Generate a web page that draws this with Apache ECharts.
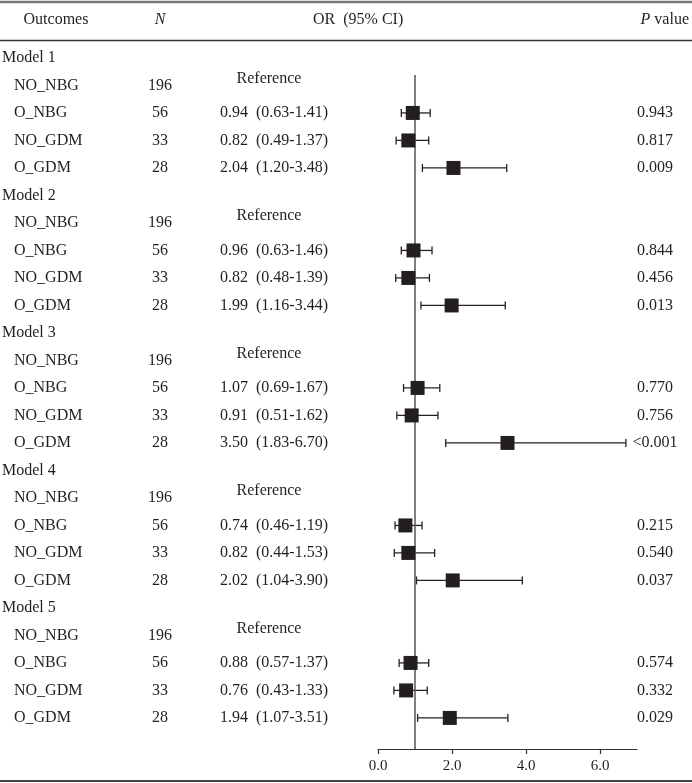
<!DOCTYPE html>
<html><head><meta charset="utf-8">
<script src="https://cdn.jsdelivr.net/npm/echarts@6/dist/echarts.min.js"></script>
<style>html,body{margin:0;padding:0;background:#fff}#c{width:692px;height:783px}</style>
</head><body><div id="c"></div>
<script>
const models = ['Model 1','Model 2','Model 3','Model 4','Model 5'];
const groups = ['NO_NBG','O_NBG','NO_GDM','O_GDM'];
const nValues = [196, 56, 33, 28];
// per model: O_NBG, NO_GDM, O_GDM (NO_NBG is reference)
const orValues = [[0.94,0.82,2.04],[0.96,0.82,1.99],[1.07,0.91,3.50],[0.74,0.82,2.02],[0.88,0.76,1.94]];
const ciLow   = [[0.63,0.49,1.20],[0.63,0.48,1.16],[0.69,0.51,1.83],[0.46,0.44,1.04],[0.57,0.43,1.07]];
const ciHigh  = [[1.41,1.37,3.48],[1.46,1.39,3.44],[1.67,1.62,6.70],[1.19,1.53,3.90],[1.37,1.33,3.51]];
const pValues = [['0.943','0.817','0.009'],['0.844','0.456','0.013'],['0.770','0.756','<0.001'],['0.215','0.540','0.037'],['0.574','0.332','0.029']];
const xTicks = [0, 2, 4, 6];

const FONT = "'Liberation Serif','DejaVu Serif',serif";
const FS = 16;
const INK = '#231f20';

// Build row table
const rows = [];
const points = [];
const cis = [];
let r = 0;
models.forEach((m, mi) => {
  rows.push({row: r, kind: 'model', label: m});
  r++;
  groups.forEach((g, gi) => {
    if (gi === 0) {
      rows.push({row: r, kind: 'ref', label: g, n: nValues[gi]});
    } else {
      const k = gi - 1;
      const o = orValues[mi][k], lo = ciLow[mi][k], hi = ciHigh[mi][k];
      rows.push({row: r, kind: 'est', label: g, n: nValues[gi],
        orText: o.toFixed(2) + '  (' + lo.toFixed(2) + '-' + hi.toFixed(2) + ')', p: pValues[mi][k]});
      points.push([o, r]);
      cis.push([lo, hi, r]);
    }
    r++;
  });
});

const chart = echarts.init(document.getElementById('c'), null, {renderer: 'canvas'});

function txt(x, y, text, align, italic) {
  return {type: 'text', x: x, y: y, style: {text: text, font: (italic ? 'italic ' : '') + FS + 'px ' + FONT,
    fill: INK, align: align, textAlign: align, verticalAlign: 'middle', textVerticalAlign: 'middle'}};
}

chart.setOption({
  animation: false,
  grid: {left: 378, right: 55, top: 75, bottom: 34},
  xAxis: {
    type: 'value', min: 0, max: 7, interval: 2,
    splitLine: {show: false},
    axisLine: {show: true, onZero: false, lineStyle: {color: '#333', width: 1.2}},
    axisTick: {show: true, length: 5, customValues: xTicks, lineStyle: {color: '#333', width: 1.2}},
    axisLabel: {customValues: xTicks, formatter: v => v.toFixed(1), color: INK, fontFamily: FONT, fontSize: 15, margin: 10}
  },
  yAxis: {
    type: 'value', inverse: true, min: 0.62, max: 25.13, show: false, splitLine: {show: false}
  },
  graphic: [
    {type: 'line', shape: {x1: 0, y1: 2, x2: 692, y2: 2}, style: {stroke: '#777', lineWidth: 2.5}},
    {type: 'line', shape: {x1: 0, y1: 40.5, x2: 692, y2: 40.5}, style: {stroke: '#333', lineWidth: 1.5}},
    {type: 'line', shape: {x1: 0, y1: 781, x2: 692, y2: 781}, style: {stroke: '#444', lineWidth: 2}},
    txt(56, 20, 'Outcomes', 'center'),
    txt(160, 20, 'N', 'center', true),
    txt(313, 20, 'OR  (95% CI)', 'left'),
    {type: 'text', x: 689, y: 20, style: {text: '{i|P} value', font: FS + 'px ' + FONT, fill: INK, align: 'right', textAlign: 'right', verticalAlign: 'middle',
      rich: {i: {fontStyle: 'italic', fontFamily: FONT, fontSize: FS, fill: INK}}}}
  ],
  series: [
    {
      type: 'custom', name: 'table', clip: false, silent: true,
      data: rows.map(d => [0, d.row]),
      renderItem: function (params, api) {
        const d = rows[params.dataIndex];
        const y = api.coord([0, d.row])[1];
        const ch = [];
        if (d.kind === 'model') {
          ch.push(txt(2, y, d.label, 'left'));
        } else {
          ch.push(txt(14, y, d.label, 'left'));
          ch.push(txt(160, y, String(d.n), 'center'));
          if (d.kind === 'ref') {
            ch.push(txt(269, y - 7, 'Reference', 'center'));
          } else {
            ch.push(txt(328, y, d.orText, 'right'));
            ch.push(txt(655, y, d.p, 'center'));
          }
        }
        return {type: 'group', children: ch};
      }
    },
    {
      type: 'custom', name: 'ci', clip: false, silent: true,
      data: cis,
      encode: {x: [0, 1], y: 2},
      renderItem: function (params, api) {
        const a = api.coord([api.value(0), api.value(2)]);
        const b = api.coord([api.value(1), api.value(2)]);
        const h = 4;
        const st = {stroke: '#222', lineWidth: 1.3};
        return {type: 'group', children: [
          {type: 'line', shape: {x1: a[0], y1: a[1], x2: b[0], y2: b[1]}, style: st},
          {type: 'line', shape: {x1: a[0], y1: a[1] - h, x2: a[0], y2: a[1] + h}, style: st},
          {type: 'line', shape: {x1: b[0], y1: b[1] - h, x2: b[0], y2: b[1] + h}, style: st}
        ]};
      }
    },
    {
      type: 'scatter', name: 'OR', data: points, symbol: 'rect', symbolSize: 14,
      itemStyle: {color: INK, opacity: 1}, z: 5, silent: true,
      markLine: {
        silent: true, symbol: 'none', label: {show: false},
        lineStyle: {color: '#555', width: 1.5, type: 'solid', opacity: 1},
        data: [{xAxis: 1}]
      }
    }
  ]
});
</script>
</body></html>
